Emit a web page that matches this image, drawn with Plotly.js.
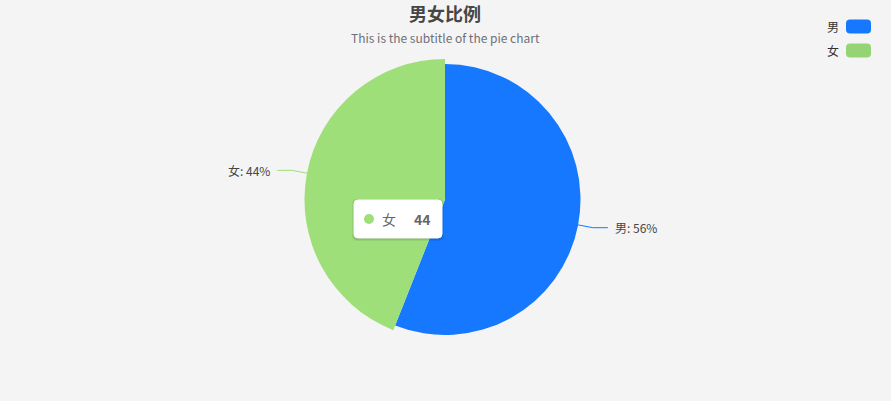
<!DOCTYPE html>
<html>
<head>
<meta charset="utf-8">
<script src="https://cdn.plot.ly/plotly-3.0.1.min.js"></script>
<style>
  html, body { margin: 0; padding: 0; background: #f4f4f4; }
  #chart { width: 891px; height: 401px; }
</style>
</head>
<body>
<div id="chart"></div>
<script>
// chart data
var categories = ['男', '女'];
var values = [56, 44];
var sliceColors = ['#1677ff', '#9fdf7a'];
var legendColors = ['#1677ff', '#95d475'];
var titleText = '男女比例';
var subtitleText = 'This is the subtitle of the pie chart';
var hoveredIndex = 1; // the slice shown enlarged with its tooltip

var W = 891, H = 401;
var FONT = '"Noto Sans CJK SC", "Noto Sans", sans-serif';

// pixel -> paper helpers (margins are zero so paper == page)
function px(x) { return x / W; }
function py(y) { return 1 - y / H; }

var cx = 445, cy = 199.5;
var baseR = 135.5, hoverR = 140.5;

function domainFor(r) {
    return { x: [px(cx - r), px(cx + r)], y: [py(cy + r), py(cy - r)] };
}

var total = values.reduce(function (a, b) { return a + b; }, 0);

// one pie per radius, so the hovered slice can be drawn a little bigger
var traces = [];
[baseR, hoverR].forEach(function (r, k) {
    traces.push({
        type: 'pie',
        labels: categories,
        values: values,
        sort: false,
        direction: 'clockwise',
        rotation: 0,
        textinfo: 'none',
        hoverinfo: 'skip',
        showlegend: false,
        domain: domainFor(r),
        marker: {
            colors: sliceColors.map(function (c, i) {
                var big = (i === hoveredIndex);
                return (k === 1) === big ? c : 'rgba(0,0,0,0)';
            }),
            line: { width: 0 }
        }
    });
});

var shapes = [];
var annotations = [];

// outside labels with leader lines, placed from the slice mid-angles
var acc = 0;
values.forEach(function (v, i) {
    var mid = (acc + v / 2) / total * 2 * Math.PI; // clockwise from top
    acc += v;
    var r = (i === hoveredIndex) ? hoverR : baseR;
    var dx = Math.sin(mid), dy = -Math.cos(mid);
    var x0 = cx + r * dx, y0 = cy + r * dy;
    var x1 = cx + (r + 15) * dx, y1 = cy + (r + 15) * dy;
    var side = dx >= 0 ? 1 : -1;
    var x2 = x1 + 15 * side;
    shapes.push({
        type: 'path', xref: 'paper', yref: 'paper',
        path: 'M ' + px(x0) + ',' + py(y0) + ' L ' + px(x1) + ',' + py(y1) + ' L ' + px(x2) + ',' + py(y1),
        line: { color: sliceColors[i], width: 1 }
    });
    annotations.push({
        xref: 'paper', yref: 'paper',
        x: px(x2 + 5 * side), y: py(y1),
        xanchor: side > 0 ? 'left' : 'right', yanchor: 'middle',
        text: categories[i] + ': ' + Math.round(v / total * 100) + '%',
        showarrow: false,
        font: { family: FONT, size: 12, color: '#464646' }
    });
});

// title + subtitle
annotations.push({
    xref: 'paper', yref: 'paper', x: px(cx), y: py(13),
    xanchor: 'center', yanchor: 'middle', showarrow: false,
    text: '<b>' + titleText + '</b>',
    font: { family: FONT, size: 18, color: '#464646' }
});
annotations.push({
    xref: 'paper', yref: 'paper', x: px(cx), y: py(37),
    xanchor: 'center', yanchor: 'middle', showarrow: false,
    text: subtitleText,
    font: { family: FONT, size: 12, color: '#6e7079' }
});

// legend (text on the left, rounded swatch on the right)
function roundRect(x, y, w, h, r) {
    return 'M ' + px(x + r) + ',' + py(y) +
        ' L ' + px(x + w - r) + ',' + py(y) +
        ' Q ' + px(x + w) + ',' + py(y) + ' ' + px(x + w) + ',' + py(y + r) +
        ' L ' + px(x + w) + ',' + py(y + h - r) +
        ' Q ' + px(x + w) + ',' + py(y + h) + ' ' + px(x + w - r) + ',' + py(y + h) +
        ' L ' + px(x + r) + ',' + py(y + h) +
        ' Q ' + px(x) + ',' + py(y + h) + ' ' + px(x) + ',' + py(y + h - r) +
        ' L ' + px(x) + ',' + py(y + r) +
        ' Q ' + px(x) + ',' + py(y) + ' ' + px(x + r) + ',' + py(y) + ' Z';
}
categories.forEach(function (name, i) {
    var top = 19.5 + i * 24;
    shapes.push({
        type: 'path', xref: 'paper', yref: 'paper',
        path: roundRect(846, top, 25, 14, 4),
        fillcolor: legendColors[i], line: { width: 0 }
    });
    annotations.push({
        xref: 'paper', yref: 'paper', x: px(841), y: py(top + 7),
        xanchor: 'right', yanchor: 'middle', showarrow: false,
        text: name,
        font: { family: FONT, size: 12, color: '#333333' }
    });
});

// tooltip for the hovered slice
var tipX = 354, tipY = 200, tipW = 88, tipH = 38;
[[3, 'rgba(0,0,0,0.06)'], [2, 'rgba(0,0,0,0.08)'], [1, 'rgba(0,0,0,0.10)']].forEach(function (s) {
    shapes.push({
        type: 'path', xref: 'paper', yref: 'paper',
        path: roundRect(tipX - s[0] + 1, tipY - s[0] + 2, tipW + 2 * s[0] - 2, tipH + 2 * s[0] - 2, 5),
        fillcolor: s[1], line: { width: 0 }
    });
});
shapes.push({
    type: 'path', xref: 'paper', yref: 'paper',
    path: roundRect(tipX, tipY, tipW, tipH, 4),
    fillcolor: '#ffffff', line: { color: '#ffffff', width: 1 }
});
shapes.push({
    type: 'circle', xref: 'paper', yref: 'paper',
    x0: px(364), x1: px(374), y0: py(224), y1: py(214),
    fillcolor: sliceColors[hoveredIndex], line: { width: 0 }
});
annotations.push({
    xref: 'paper', yref: 'paper', x: px(380), y: py(219),
    xanchor: 'left', yanchor: 'middle', showarrow: false,
    text: categories[hoveredIndex],
    font: { family: FONT, size: 14, color: '#666666' }
});
annotations.push({
    xref: 'paper', yref: 'paper', x: px(433), y: py(219),
    xanchor: 'right', yanchor: 'middle', showarrow: false,
    text: '<b>' + values[hoveredIndex] + '</b>',
    font: { family: FONT, size: 14, color: '#666666' }
});

var layout = {
    width: W,
    height: H,
    margin: { l: 0, r: 0, t: 0, b: 0, pad: 0 },
    paper_bgcolor: '#f4f4f4',
    plot_bgcolor: '#f4f4f4',
    showlegend: false,
    shapes: shapes,
    annotations: annotations
};

Plotly.newPlot('chart', traces, layout, { displayModeBar: false, staticPlot: true });
</script>
</body>
</html>
